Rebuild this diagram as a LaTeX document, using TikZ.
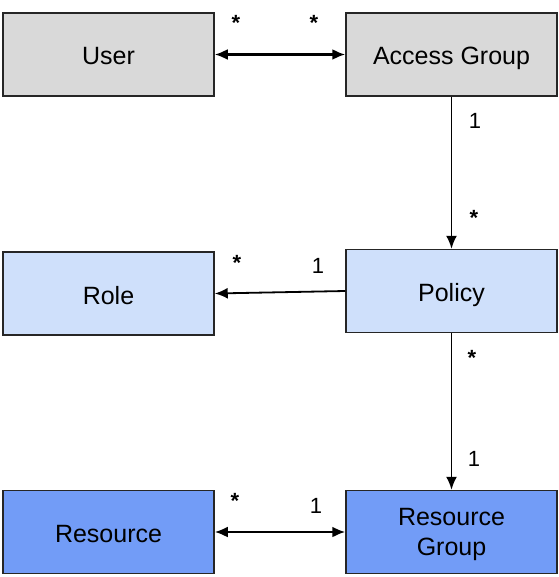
\documentclass[tikz,border=0pt]{standalone}
\usepackage{fontspec}
\setmainfont{Liberation Sans}
\usetikzlibrary{arrows.meta}
\definecolor{grayfill}{HTML}{D9D9D9}
\definecolor{lightblue}{HTML}{CFE0FB}
\definecolor{midblue}{HTML}{729CF7}
\tikzset{
  box/.style={draw=black!85, line width=1.5pt, minimum width=211pt, minimum height=83pt,
    inner sep=0pt, align=center, font=\fontsize{25}{30}\selectfont},
  onel/.style={text height=21pt, text depth=0pt},
  conn/.style={line width=1.8pt, -{Latex[length=13pt,width=11pt]}},
  biconn/.style={line width=2.2pt, {Latex[length=13pt,width=11pt]}-{Latex[length=13pt,width=11pt]}},
  mult/.style={font=\fontsize{22}{26}\selectfont, inner sep=0pt},
  star/.style={font=\fontsize{22}{26}\selectfont\bfseries, inner sep=0pt}
}
\begin{document}
\begin{tikzpicture}[x=1pt,y=-1pt]
\useasboundingbox (0,0) rectangle (558,577);
\node[box, onel, fill=grayfill] (user) at (108.5,54.5) {User};
\node[box, onel, fill=grayfill] (ag) at (451.5,54.5) {Access Group};
\node[box, onel, fill=lightblue] (role) at (108.5,293.5) {Role};
\node[box, onel, fill=lightblue] (policy) at (451.5,291) {Policy};
\node[box, onel, fill=midblue] (res) at (108.5,532) {Resource};
\node[box, text depth=0pt, fill=midblue] (rg) at (451.5,532) {Resource\\[0pt]Group};

\draw[biconn] (user.east) -- (ag.west);
\draw[conn] (ag.south) -- (policy.north);
\draw[conn] (policy.west) -- (role.east);
\draw[conn] (policy.south) -- (rg.north);
\draw[biconn] (res.east) -- (rg.west);

\node[star] (s1) at (236,23) {*};
\node[star] (s2) at (314,23) {*};
\node[mult] (m1) at (475,121) {1};
\node[star] (s3) at (474,218) {*};
\node[star] (s4) at (237,263) {*};
\node[mult] (m2) at (318,266) {1};
\node[star] (s5) at (472,358) {*};
\node[mult] (m3) at (474,459) {1};
\node[star] (s6) at (235,501) {*};
\node[mult] (m4) at (316,506) {1};
\end{tikzpicture}
\end{document}
